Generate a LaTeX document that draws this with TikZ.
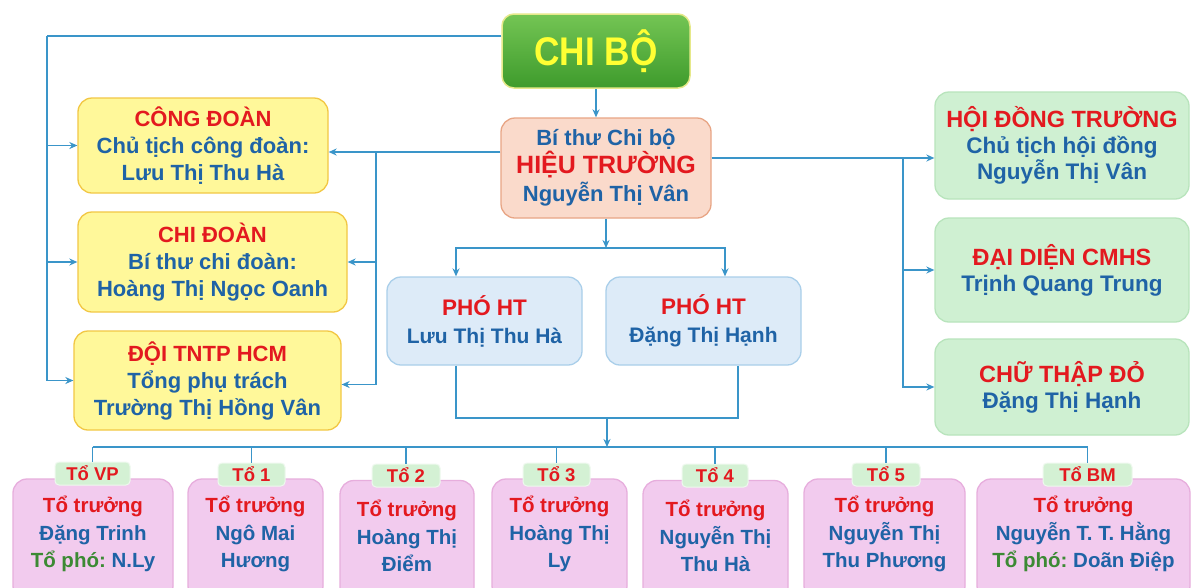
\documentclass[tikz,border=0pt]{standalone}
\usepackage{fontspec}
\setmainfont{Liberation Sans}
\usetikzlibrary{arrows.meta,calc}
\definecolor{tred}{HTML}{E3191F}
\definecolor{tblue}{HTML}{1F63A6}
\definecolor{tgreen}{HTML}{3C8A34}
\definecolor{lineb}{HTML}{3A95C9}
\definecolor{yfill}{HTML}{FFF89A}
\definecolor{ydraw}{HTML}{F2C744}
\definecolor{htfill}{HTML}{FADACB}
\definecolor{htdraw}{HTML}{E8A585}
\definecolor{bfill}{HTML}{DDEBF8}
\definecolor{bdraw}{HTML}{AACFEA}
\definecolor{gfill}{HTML}{CFF0D2}
\definecolor{gdraw}{HTML}{B8E4BC}
\definecolor{pfill}{HTML}{F2CBEE}
\definecolor{pdraw}{HTML}{E7AEDD}
\definecolor{tabfill}{HTML}{D4F1D4}
\definecolor{tabdraw}{HTML}{EEF9EE}
\definecolor{cbtop}{HTML}{74C554}
\definecolor{cbbot}{HTML}{3E9B2C}
\definecolor{cbdraw}{HTML}{E6E98A}
\definecolor{cbtext}{HTML}{FFFF33}
\frenchspacing
\tikzset{
  box/.style={draw, rounded corners=14pt, line width=1.3pt, inner sep=0pt, align=center,
    font=\bfseries\fontsize{22}{27}\selectfont, text=tblue},
  ybox/.style={box, fill=yfill, draw=ydraw},
  hbox/.style={box, fill=htfill, draw=htdraw},
  bbox/.style={box, fill=bfill, draw=bdraw},
  gbox/.style={box, fill=gfill, draw=gdraw, font=\bfseries\fontsize{22.5}{26}\selectfont},
  tobox/.style={box, fill=pfill, draw=pdraw, minimum height=121pt},
  totext/.style={align=center, inner sep=0pt, text=tblue, font=\bfseries\fontsize{20.5}{27.5}\selectfont},
  tab/.style={draw=tabdraw, fill=tabfill, line width=1pt, rounded corners=4pt, inner sep=0pt,
    minimum height=23pt, text=tred, font=\bfseries\fontsize{18.5}{20}\selectfont},
  conn/.style={draw=lineb, line width=1.3pt},
  arr/.style={conn, -{Stealth[length=8pt,width=7pt]}},
}
\begin{document}
\begin{tikzpicture}[x=1pt,y=-1pt]
\fill[white] (0,0) rectangle (1192,587);
\useasboundingbox (0,0) rectangle (1192,587);
\clip (0,0) rectangle (1192,587);

% main nodes
\node[draw=cbdraw, line width=1.5pt, rounded corners=12pt, top color=cbtop, bottom color=cbbot,
  minimum width=188pt, minimum height=74pt, inner sep=0pt] (chibo) at (596,51)
  {\scalebox{0.88}[1]{\fontsize{40}{40}\selectfont\bfseries\color{cbtext}CHI BỘ}};

\node[ybox, minimum width=250pt, minimum height=95pt] (congdoan) at (203,145.5)
  {\textcolor{tred}{CÔNG ĐOÀN}\\Chủ tịch công đoàn:\\Lưu Thị Thu Hà};
\node[ybox, minimum width=269pt, minimum height=100pt] (chidoan) at (212.5,262)
  {\textcolor{tred}{CHI ĐOÀN}\\Bí thư chi đoàn:\\Hoàng Thị Ngọc Oanh};
\node[ybox, minimum width=267pt, minimum height=99pt] (doi) at (207.5,380.5)
  {\textcolor{tred}{ĐỘI TNTP HCM}\\Tổng phụ trách\\Trường Thị Hồng Vân};

\node[hbox, minimum width=210pt, minimum height=100pt, font=\bfseries\fontsize{22}{28}\selectfont] (ht) at (606,168)
  {Bí thư Chi bộ\\{\fontsize{25}{28}\selectfont\color{tred}HIỆU TRƯỜNG}\\Nguyễn Thị Vân};

\node[bbox, minimum width=195pt, minimum height=88pt, font=\bfseries\fontsize{21}{28}\selectfont] (pho1) at (484.5,321)
  {{\fontsize{22.5}{28}\selectfont\color{tred}PHÓ HT}\\Lưu Thị Thu Hà};
\node[bbox, minimum width=195pt, minimum height=88pt, font=\bfseries\fontsize{21}{28}\selectfont] (pho2) at (703.5,321)
  {{\fontsize{22.5}{28}\selectfont\color{tred}PHÓ HT}\\Đặng Thị Hạnh};

\node[gbox, minimum width=254pt, minimum height=107pt] (hoidong) at (1062,145.5)
  {{\fontsize{23.5}{26}\selectfont\color{tred}HỘI ĐỒNG TRƯỜNG}\\Chủ tịch hội đồng\\Nguyễn Thị Vân};
\node[gbox, minimum width=254pt, minimum height=104pt] (daidien) at (1062,270)
  {{\fontsize{23.5}{26}\selectfont\color{tred}ĐẠI DIỆN CMHS}\\Trịnh Quang Trung};
\node[gbox, minimum width=254pt, minimum height=96pt] (chuthap) at (1062,387)
  {{\fontsize{23.5}{26}\selectfont\color{tred}CHỮ THẬP ĐỎ}\\Đặng Thị Hạnh};

% connectors from CHI BO
\coordinate (LT) at (47,36);
\draw[conn] ([yshift=15pt]chibo.west) -- (LT);
\draw[arr] (LT) |- (congdoan.west);
\draw[arr] (LT) |- (chidoan.west);
\draw[arr] (LT) |- (doi.west);
\draw[arr] (chibo.south) -- (chibo.south |- ht.north);

% HT left
\coordinate (HL) at (376,152);
\draw[conn] ([yshift=16pt]ht.west) -- (HL);
\draw[arr] (HL) -- (HL -| congdoan.east);
\draw[arr] (HL) |- (chidoan.east);
\draw[arr] (HL) |- ([yshift=-4pt]doi.east);

% HT right
\coordinate (HR) at (903,158);
\draw[conn] ([yshift=10pt]ht.east) -- (HR);
\draw[arr] (HR) -- (HR -| hoidong.west);
\draw[arr] (HR) |- (daidien.west);
\draw[arr] (HR) |- (chuthap.west);

% HT down
\coordinate (HB) at (606,248);
\draw[arr] (ht.south) -- (HB);
\draw[arr] (HB) -| ([xshift=-28.5pt]pho1.north);
\draw[arr] (HB) -| ([xshift=21.5pt]pho2.north);

% PHO HT to bus
\coordinate (PB) at (607,418);
\coordinate (bus) at (607,447);
\draw[conn] ([xshift=-28.5pt]pho1.south) |- (PB) -| ([xshift=34.5pt]pho2.south);
\draw[arr] (PB) -- (bus);

% to boxes
\node[tobox, minimum width=160pt] (t0) at (93,539.5) {};
\node[tobox, minimum width=135pt] (t1) at (255.5,539.5) {};
\node[tobox, minimum width=134pt] (t2) at (407,541) {};
\node[tobox, minimum width=135pt] (t3) at (559.5,539.5) {};
\node[tobox, minimum width=145pt] (t4) at (715.5,541) {};
\node[tobox, minimum width=161pt] (t5) at (884.5,539.5) {};
\node[tobox, minimum width=213pt] (t6) at (1083.5,539.5) {};

\node[totext] (t0txt) at (93,534) {\textcolor{tred}{Tổ trưởng}\\Đặng Trinh\\\textcolor{tgreen}{Tổ phó:} N.Ly};
\node[totext] (t1txt) at (255.5,534) {\textcolor{tred}{Tổ trưởng}\\Ngô Mai\\Hương};
\node[totext] (t2txt) at (407,536) {\textcolor{tred}{Tổ trưởng}\\Hoàng Thị\\Điểm};
\node[totext] (t3txt) at (559.5,534) {\textcolor{tred}{Tổ trưởng}\\Hoàng Thị\\Ly};
\node[totext] (t4txt) at (715.5,536) {\textcolor{tred}{Tổ trưởng}\\Nguyễn Thị\\Thu Hà};
\node[totext] (t5txt) at (884.5,534) {\textcolor{tred}{Tổ trưởng}\\Nguyễn Thị\\Thu Phương};
\node[totext] (t6txt) at (1083.5,534) {\textcolor{tred}{Tổ trưởng}\\Nguyễn T. T. Hằng\\\textcolor{tgreen}{Tổ phó:} Doãn Điệp};

% tabs
\node[tab, minimum width=75pt] (tab0) at (92.5,473.5) {Tổ VP};
\node[tab, minimum width=67pt] (tab1) at (251.5,474.5) {Tổ 1};
\node[tab, minimum width=68pt] (tab2) at (406,475.5) {Tổ 2};
\node[tab, minimum width=67pt] (tab3) at (556.5,474.5) {Tổ 3};
\node[tab, minimum width=66pt] (tab4) at (715,475.5) {Tổ 4};
\node[tab, minimum width=68pt] (tab5) at (886,474.5) {Tổ 5};
\node[tab, minimum width=89pt] (tab6) at (1087.5,474.5) {Tổ BM};

% bus
\draw[conn] (tab0.north |- bus) -- (tab6.north |- bus);
\foreach \k in {0,...,6}{
  \draw[conn] (tab\k.north |- bus) -- (tab\k.north);
}
\end{tikzpicture}
\end{document}
